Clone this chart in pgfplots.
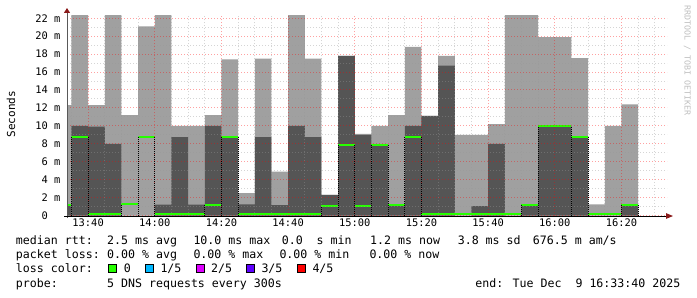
\documentclass[border=0pt]{standalone}
\usepackage{fontspec}
\setmainfont{DejaVu Sans Mono}
\usepackage{pgfplots}
\pgfplotsset{compat=1.18}
\usetikzlibrary{arrows.meta}
\definecolor{lightg}{HTML}{A0A0A0}
\definecolor{darkg}{HTML}{555555}
\definecolor{medgreen}{HTML}{26FF00}
\definecolor{arrowred}{HTML}{8B1A1A}
\definecolor{lc1}{HTML}{00B8FF}
\definecolor{lc2}{HTML}{DD00FF}
\definecolor{lc3}{HTML}{5E00FF}
\definecolor{lc4}{HTML}{FF0000}
\definecolor{mgrid}{HTML}{FF0000}
\definecolor{ngrid}{HTML}{969696}
\newcommand\tickfont{\fontsize{10.4bp}{12bp}\selectfont}
\newcommand\legfont{\fontsize{11.6bp}{14bp}\selectfont}
\pgfplotsset{rrdframe/.style={
  at={(67bp,81.5bp)}, anchor=south west,
  scale only axis, width=600bp, height=200bp,
  xmin=33.667, xmax=213.667, ymin=0, ymax=22.3}}
\begin{document}
\begin{tikzpicture}[x=1bp,y=1bp]
\path[use as bounding box] (0,0) rectangle (697,297);
\begin{axis}[
  rrdframe,
  axis on top,
  axis line style={draw=none},
  xtick={40,60,...,200},
  xticklabels={13:40,14:00,14:20,14:40,15:00,15:20,15:40,16:00,16:20},
  minor xtick={35,45,50,55,65,70,75,85,90,95,105,110,115,125,130,135,145,150,155,165,170,175,185,190,195,205,210},
  ytick={0,2,...,22},
  yticklabels={0\phantom{mm},2 m,4 m,6 m,8 m,10 m,12 m,14 m,16 m,18 m,20 m,22 m},
  minor ytick={1,3,...,21},
  grid=both,
  major grid style={draw=mgrid, draw opacity=0.37, line width=0.9bp, dash pattern=on 1bp off 2bp},
  minor grid style={draw=ngrid, draw opacity=0.4, line width=0.9bp, dash pattern=on 1bp off 2bp},
  major tick length=0pt, minor tick length=0pt,
  xticklabel style={font=\tickfont, anchor=north, inner sep=0pt, yshift=-2.8bp},
  yticklabel style={font=\tickfont, anchor=east, inner sep=0pt, xshift=-6.3bp},
]
% outer smoke (min..max)
\addplot[const plot mark left, fill=lightg, draw=none] coordinates {
(33.667,12.3) (35,22.4) (40,12.3) (45,22.4) (50,11.2) (55,21.1) (60,22.4)
(65,10.0) (70,10.0) (75,11.2) (80,17.4) (85,2.5) (90,17.5) (95,4.9)
(100,22.4) (105,17.5) (110,2.3) (115,17.8) (120,9.1) (125,10.0) (130,11.2)
(135,18.8) (140,11.1) (145,17.8) (150,9.0) (155,9.0) (160,10.2) (165,22.4)
(170,22.4) (175,19.9) (180,19.9) (185,17.55) (190,1.25) (195,10.0) (200,12.4)
(205,12.4)} \closedcycle;
% inner smoke
\addplot[const plot mark left, fill=darkg, draw=none] coordinates {
(33.667,1.2) (35,10.0) (40,9.9) (45,8.0) (50,0) (55,0) (60,1.2)
(65,8.75) (70,1.2) (75,10.0) (80,8.8) (85,1.25) (90,8.75) (95,1.15)
(100,10.0) (105,8.75) (110,2.3) (115,17.8) (120,9.0) (125,7.95) (130,1.2)
(135,10.0) (140,11.1) (145,16.7) (150,0) (155,1.05) (160,8.0) (165,0)
(170,1.2) (175,10.0) (180,10.0) (185,8.8) (190,0) (195,0) (200,1.2)
(205,1.2)} \closedcycle;
% median
\addplot[jump mark left, mark=none, draw=medgreen, line width=2bp] coordinates {
(33.667,1.2) (35,8.8) (40,0.12) (45,0.12) (50,1.25) (55,8.8) (60,0.12)
(65,0.12) (70,0.12) (75,1.2) (80,8.8) (85,0.12) (90,0.12) (95,0.12)
(100,0.12) (105,0.12) (110,1.05) (115,7.9) (120,1.05) (125,7.9) (130,1.2)
(135,8.8) (140,0.12) (145,0.12) (150,0.12) (155,0.12) (160,0.12) (165,0.12)
(170,1.2) (175,10.0) (180,10.0) (185,8.8) (190,0.12) (195,0.12) (200,1.2)
(205,1.2)};
\end{axis}
% overlay axis: dotted step edges above the grid
\begin{axis}[rrdframe, hide axis]
\addplot[ycomb, mark=none, draw=black, line width=1bp, dash pattern=on 1bp off 1bp] coordinates {
(35,8.8) (40,8.8) (50,1.2) (55,8.8) (60,8.8) (75,1.2) (80,8.8) (85,8.8)
(110,1.05) (115,7.9) (120,7.9) (125,7.9) (130,7.9) (135,8.8) (140,8.8)
(170,1.2) (175,10.0) (185,10.0) (190,8.8) (200,1.2) (205,1.2)};
\end{axis}
% axes with arrows
\draw[draw=black!65, line width=1bp, -{Triangle[length=5bp,width=6bp,color=arrowred]}] (67,79) -- (67,289);
\draw[draw=black, line width=1bp, -{Triangle[length=7bp,width=5.5bp,color=arrowred]}] (64,81) -- (673,81);
% labels
\node[rotate=90, inner sep=0pt, font=\fontsize{11bp}{13bp}\selectfont] at (11,182.8) {Seconds};
\node[rotate=-90, anchor=base west, inner sep=0pt, text=black!25, font=\fontsize{8.3bp}{9bp}\selectfont] at (684.5,292) {RRDTOOL / TOBI OETIKER};
% legend
\begin{scope}[every node/.style={anchor=base west, inner sep=0pt, font=\legfont}]
\node at (15.8,52.4) {median rtt:};
\node at (107,52.4) {2.5 ms avg};
\node at (193.3,52.4) {10.0 ms max};
\node at (281.6,52.4) {0.0~~s min};
\node at (370,52.4) {1.2 ms now};
\node at (457.6,52.4) {3.8 ms sd};
\node at (532.7,52.4) {676.5 m am/s};
\node at (15.8,38.2) {packet loss:};
\node at (107,38.2) {0.00 \% avg};
\node at (193.3,38.2) {0.00 \% max};
\node at (279.3,38.2) {0.00 \% min};
\node at (369.3,38.2) {0.00 \% now};
\node at (15.8,24.1) {loss color:};
\node at (123.6,24.1) {0};
\node at (160.3,24.1) {1/5};
\node at (210.9,24.1) {2/5};
\node at (261.3,24.1) {3/5};
\node at (312.3,24.1) {4/5};
\node at (15.8,10) {probe:};
\node at (107,10) {5 DNS requests every 300s};
\node[anchor=base east] at (680.5,10) {end: Tue Dec~~9 16:33:40 2025};
\end{scope}
\begin{scope}[every node/.style={draw=black, line width=1bp, minimum width=8bp, minimum height=8bp, inner sep=0pt}]
\node[fill=medgreen] at (112.2,28.2) {};
\node[fill=lc1] at (149.5,28.2) {};
\node[fill=lc2] at (200.2,28.2) {};
\node[fill=lc3] at (250.8,28.2) {};
\node[fill=lc4] at (301.9,28.2) {};
\end{scope}
\end{tikzpicture}
\end{document}
